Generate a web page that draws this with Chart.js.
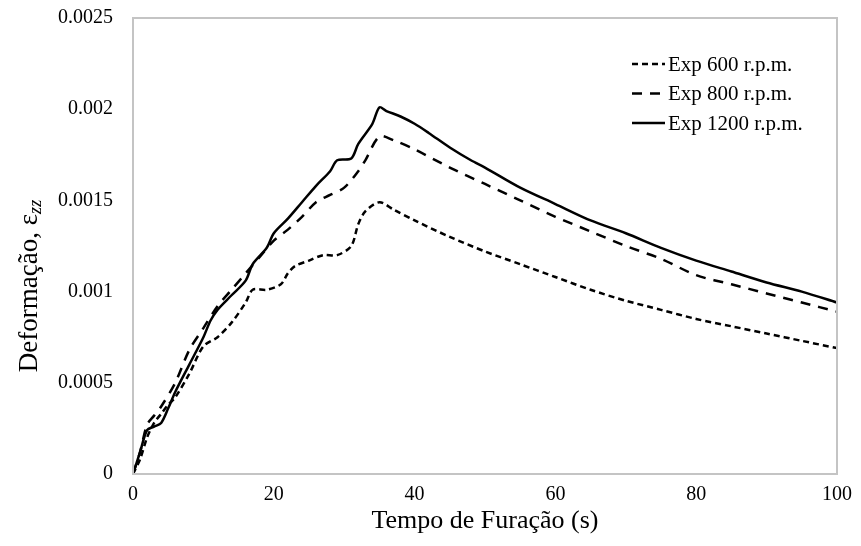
<!DOCTYPE html>
<html>
<head>
<meta charset="utf-8">
<script src="https://cdn.jsdelivr.net/npm/chart.js@4/dist/chart.umd.min.js"></script>
<style>
  html, body { margin: 0; padding: 0; background: #fff; }
  #wrap { width: 861px; height: 546px; }
</style>
</head>
<body>
<div id="wrap"><canvas id="myChart" width="861" height="546"></canvas></div>
<script>
// tempo (s) e deformação
var time600 = [0, 1, 2, 3, 4, 5, 6, 8, 10, 12, 14, 16, 17, 19, 21, 22, 23, 25, 27, 29, 31, 32, 33, 35, 37, 40, 45, 50, 55, 60, 65, 70, 75, 80, 85, 90, 95, 100];
var strain600 = [0, 0.00008, 0.0002, 0.00028, 0.00033, 0.00038, 0.00042, 0.00055, 0.0007, 0.00075, 0.00083, 0.00094, 0.00101, 0.00101, 0.00104, 0.0011, 0.00114, 0.00117, 0.0012, 0.0012, 0.00125, 0.00137, 0.00144, 0.00149, 0.00145, 0.00139, 0.0013, 0.00122, 0.00115, 0.00108, 0.00101, 0.00095, 0.0009, 0.00085, 0.00081, 0.00077, 0.00073, 0.00069];

var time800 = [0, 1, 2, 3, 4, 6, 8, 10, 12, 14, 16, 18, 20, 22, 24, 26, 28, 30, 32, 33, 35, 37, 40, 45, 50, 55, 60, 65, 70, 75, 80, 85, 90, 95, 100];
var strain800 = [0, 0.00012, 0.00027, 0.00032, 0.00037, 0.0005, 0.00068, 0.0008, 0.00092, 0.00101, 0.0011, 0.00119, 0.00128, 0.00134, 0.00141, 0.00149, 0.00153, 0.00157, 0.00166, 0.00172, 0.00185, 0.00183, 0.00178, 0.00168, 0.00159, 0.0015, 0.00141, 0.00133, 0.00125, 0.00118, 0.00109, 0.00104, 0.00099, 0.00094, 0.00089];

var time1200 = [0, 1, 2, 3, 4, 5, 6, 8, 10, 11, 12, 14, 16, 17, 19, 20, 22, 24, 26, 28, 29, 31, 32, 34, 35, 36, 38, 40, 42, 45, 48, 50, 55, 60, 65, 70, 75, 80, 85, 90, 95, 100];
var strain1200 = [0, 0.00012, 0.00024, 0.00026, 0.00028, 0.00036, 0.00045, 0.0006, 0.00075, 0.00084, 0.0009, 0.00098, 0.00106, 0.00115, 0.00124, 0.00132, 0.0014, 0.00149, 0.00158, 0.00166, 0.00172, 0.00173, 0.00181, 0.00192, 0.00201, 0.00199, 0.00196, 0.00192, 0.00187, 0.00179, 0.00172, 0.00168, 0.00157, 0.00148, 0.00139, 0.00132, 0.00124, 0.00117, 0.00111, 0.00105, 0.001, 0.00094];

var seriesLabels = ['Exp 600 r.p.m.', 'Exp 800 r.p.m.', 'Exp 1200 r.p.m.'];
var xTicks = [0, 20, 40, 60, 80, 100];
var yTicks = [0, 0.0005, 0.001, 0.0015, 0.002, 0.0025];

function pts(xs, ys) {
    return xs.map(function (x, i) { return { x: x, y: ys[i] }; });
}

var serif = "'Liberation Serif', 'Times New Roman', serif";

// caixa cinza, legenda e título do eixo y
var extras = {
    id: 'extras',
    afterDraw: function (chart) {
        var ctx = chart.ctx;
        var a = chart.chartArea;
        ctx.save();
        ctx.strokeStyle = '#c4c4c4';
        ctx.lineWidth = 2;
        ctx.strokeRect(a.left, a.top, a.right - a.left, a.bottom - a.top);

        // legenda
        ctx.font = '21px ' + serif;
        ctx.textBaseline = 'middle';
        ctx.fillStyle = '#000';
        chart.data.datasets.forEach(function (ds, i) {
            var y = 64 + i * 29.5;
            ctx.beginPath();
            ctx.setLineDash(ds.borderDash || []);
            ctx.strokeStyle = '#000';
            ctx.lineWidth = ds.borderWidth;
            ctx.moveTo(632, y);
            ctx.lineTo(665, y);
            ctx.stroke();
            ctx.setLineDash([]);
            ctx.fillText(ds.label, 668, y + 1);
        });

        // título do eixo y com subscrito
        var main = 'Deformação, ε';
        var sub = 'zz';
        ctx.font = '27px ' + serif;
        var w1 = ctx.measureText(main).width;
        ctx.font = 'italic 18px ' + serif;
        var w2 = ctx.measureText(sub).width;
        ctx.translate(37, 286);
        ctx.rotate(-Math.PI / 2);
        ctx.textBaseline = 'alphabetic';
        ctx.textAlign = 'left';
        var start = -(w1 + w2) / 2;
        ctx.font = '27px ' + serif;
        ctx.fillText(main, start, 0);
        ctx.font = 'italic 18px ' + serif;
        ctx.fillText(sub, start + w1, 4);
        ctx.restore();
    }
};

var ctx = document.getElementById('myChart').getContext('2d');

var chart = new Chart(ctx, {
    type: 'line',
    data: {
        datasets: [{
            label: seriesLabels[0],
            data: pts(time600, strain600),
            borderColor: '#000',
            borderWidth: 2.5,
            borderDash: [6, 4],
            tension: 0.3
        }, {
            label: seriesLabels[1],
            data: pts(time800, strain800),
            borderColor: '#000',
            borderWidth: 2.5,
            borderDash: [10, 8],
            tension: 0.3
        }, {
            label: seriesLabels[2],
            data: pts(time1200, strain1200),
            borderColor: '#000',
            borderWidth: 2.5,
            tension: 0.3
        }]
    },
    options: {
        responsive: false,
        animation: false,
        elements: { point: { radius: 0 } },
        layout: { padding: { left: 0, right: 21, top: 18, bottom: 0 } },
        plugins: {
            legend: { display: false },
            tooltip: { enabled: false }
        },
        scales: {
            x: {
                type: 'linear',
                min: 0,
                max: 100,
                afterFit: function (s) { s.height = 72; },
                afterBuildTicks: function (s) { s.ticks = xTicks.map(function (v) { return { value: v }; }); },
                grid: { display: false, drawTicks: false },
                border: { display: false },
                ticks: { color: '#000', padding: 9, font: { family: serif, size: 20 } },
                title: {
                    display: true,
                    text: 'Tempo de Furação (s)',
                    color: '#000',
                    font: { family: serif, size: 26 },
                    padding: { top: 0, bottom: 9 }
                }
            },
            y: {
                min: 0,
                max: 0.0025,
                afterFit: function (s) { s.width = 133; },
                afterBuildTicks: function (s) { s.ticks = yTicks.map(function (v) { return { value: v }; }); },
                grid: { display: false, drawTicks: true, tickLength: 17 },
                border: { display: false },
                ticks: {
                    color: '#000',
                    padding: 3,
                    font: { family: serif, size: 20 },
                    callback: function (v) { return String(+v.toFixed(4)); }
                }
            }
        }
    },
    plugins: [extras]
});
</script>
</body>
</html>
